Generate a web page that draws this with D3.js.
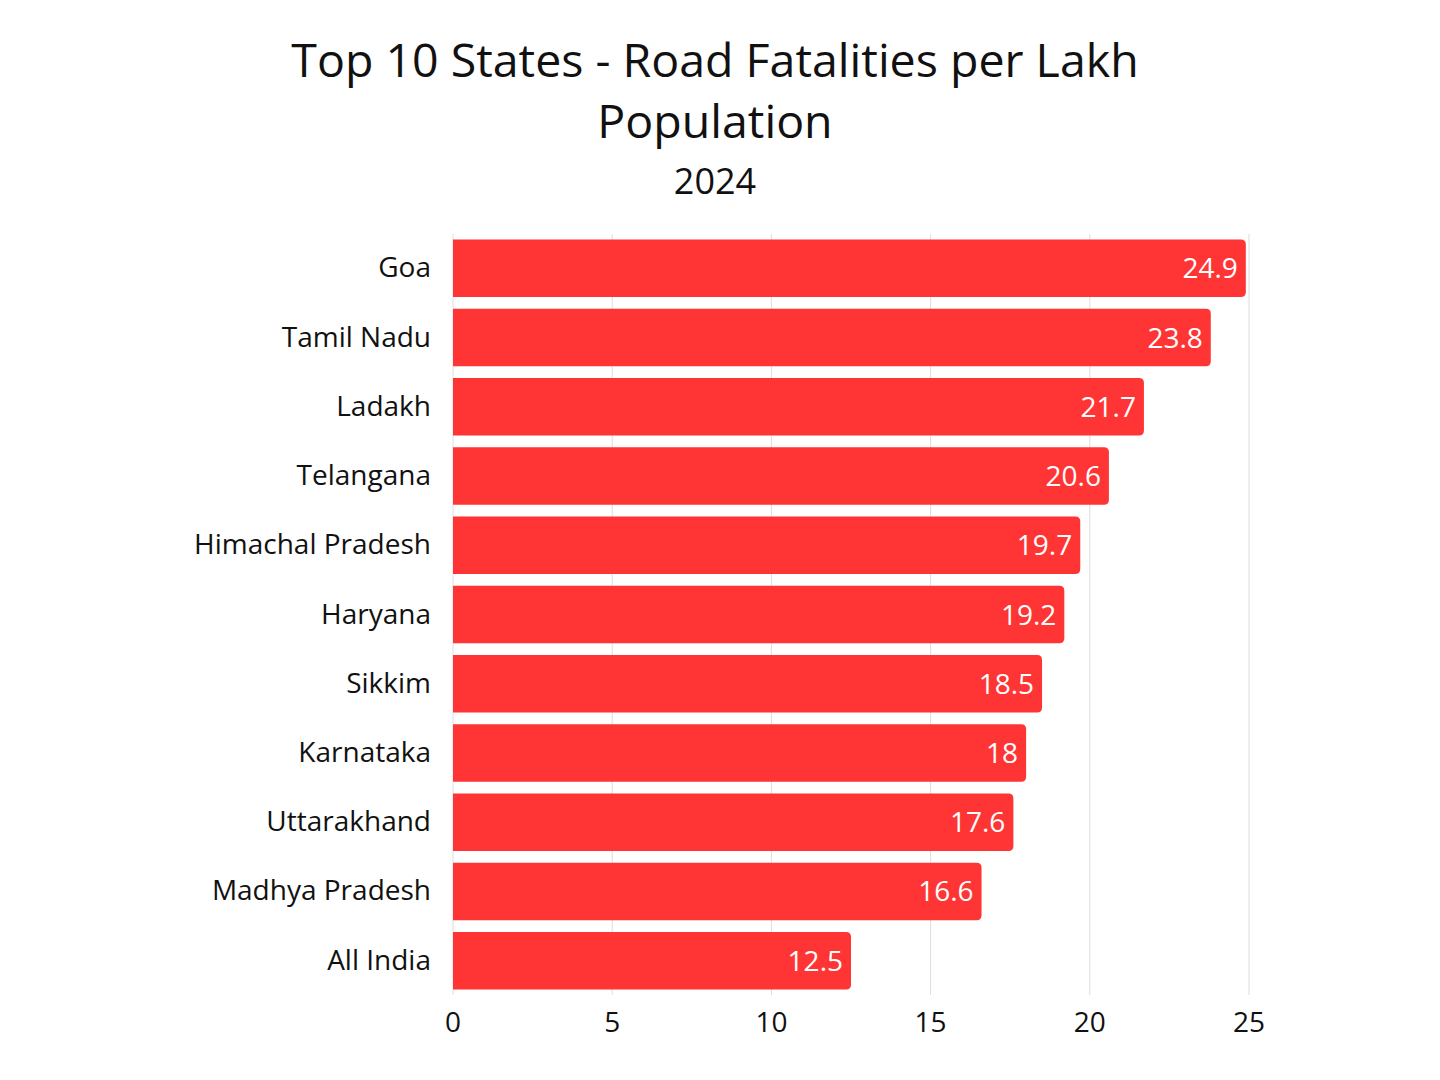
<!DOCTYPE html>
<html>
<head>
<meta charset="utf-8">
<script src="https://cdn.jsdelivr.net/npm/d3@7"></script>
<style>
  body { margin: 0; background: #fff; }
  text { font-family: "Open Sans", "Noto Sans", sans-serif; }
</style>
</head>
<body>
<svg id="chart" width="1440" height="1080"></svg>
<script>
var states = ["Goa", "Tamil Nadu", "Ladakh", "Telangana", "Himachal Pradesh", "Haryana",
              "Sikkim", "Karnataka", "Uttarakhand", "Madhya Pradesh", "All India"];
var fatalities = [24.9, 23.8, 21.7, 20.6, 19.7, 19.2, 18.5, 18, 17.6, 16.6, 12.5];
var xTicks = [0, 5, 10, 15, 20, 25];

var svg = d3.select("#chart");
var plotLeft = 453, plotRight = 1249, plotTop = 234, plotBottom = 995;

var x = d3.scaleLinear().domain([0, 25]).range([plotLeft, plotRight]);
var y = d3.scaleBand().domain(states).range([plotTop, plotBottom]).paddingInner(0.17).paddingOuter(0.08);

// title
svg.append("text").attr("x", 715).attr("y", 77).attr("text-anchor", "middle")
    .attr("font-size", 46.5).attr("fill", "#111").text("Top 10 States - Road Fatalities per Lakh");
svg.append("text").attr("x", 715).attr("y", 138).attr("text-anchor", "middle")
    .attr("font-size", 46.5).attr("fill", "#111").text("Population");
svg.append("text").attr("x", 715).attr("y", 194).attr("text-anchor", "middle")
    .attr("font-size", 36).attr("fill", "#111").text("2024");

// grid
svg.append("g").selectAll("line").data(xTicks).join("line")
    .attr("x1", function (d) { return x(d); }).attr("x2", function (d) { return x(d); })
    .attr("y1", plotTop).attr("y2", plotBottom)
    .attr("stroke", "#dddddd").attr("stroke-width", 1);

// bars with rounded right end
var r = 5;
svg.append("g").selectAll("path").data(fatalities).join("path")
    .attr("fill", "#ff3434")
    .attr("d", function (d, i) {
        var x0 = x(0), x1 = x(d), y0 = y(states[i]), h = y.bandwidth();
        return "M" + x0 + "," + y0 + "H" + (x1 - r) + "Q" + x1 + "," + y0 + " " + x1 + "," + (y0 + r) +
            "V" + (y0 + h - r) + "Q" + x1 + "," + (y0 + h) + " " + (x1 - r) + "," + (y0 + h) + "H" + x0 + "Z";
    });

// value labels
svg.append("g").selectAll("text").data(fatalities).join("text")
    .attr("x", function (d) { return x(d) - 8; })
    .attr("y", function (d, i) { return y(states[i]) + y.bandwidth() / 2 + 10; })
    .attr("text-anchor", "end").attr("font-size", 28).attr("fill", "#fff")
    .text(function (d) { return d; });

// category labels
svg.append("g").selectAll("text").data(states).join("text")
    .attr("x", 431)
    .attr("y", function (d) { return y(d) + y.bandwidth() / 2 + 9; })
    .attr("text-anchor", "end").attr("font-size", 28).attr("fill", "#111")
    .text(function (d) { return d; });

// x tick labels
svg.append("g").selectAll("text").data(xTicks).join("text")
    .attr("x", function (d) { return x(d); }).attr("y", 1032)
    .attr("text-anchor", "middle").attr("font-size", 28).attr("fill", "#111")
    .text(function (d) { return d; });
</script>
</body>
</html>
